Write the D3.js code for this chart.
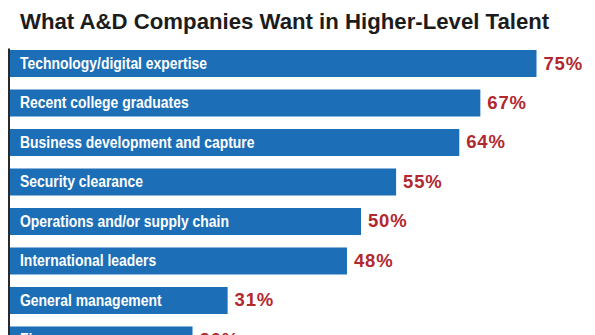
<!DOCTYPE html>
<html>
<head>
<meta charset="utf-8">
<script src="https://cdn.jsdelivr.net/npm/d3@7"></script>
<style>
  html, body { margin: 0; padding: 0; background: #fff; overflow: hidden; }
  svg { display: block; }
</style>
</head>
<body>
<script>
const title = "What A&D Companies Want in Higher-Level Talent";
const categories = [
  "Technology/digital expertise",
  "Recent college graduates",
  "Business development and capture",
  "Security clearance",
  "Operations and/or supply chain",
  "International leaders",
  "General management",
  "Finance"
];
const values = [75, 67, 64, 55, 50, 48, 31, 26];

const W = 595, H = 335;
const svg = d3.select("body").append("svg").attr("width", W).attr("height", H);

const x = d3.scaleLinear().domain([0, 100]).range([10, 712]);
const y = d3.scaleBand().domain(categories).range([50, 353.5]).paddingInner(0.316).paddingOuter(0);

svg.append("text")
  .attr("x", 20).attr("y", 28.5)
  .attr("font-family", "Liberation Sans, Arial, sans-serif")
  .attr("font-weight", "bold").attr("font-size", 22.2)
  .attr("fill", "#1c1c1c")
  .text(title);

const data = categories.map((c, i) => ({ c, v: values[i] }));

svg.selectAll("rect.bar").data(data).join("rect")
  .attr("class", "bar")
  .attr("x", x(0)).attr("y", d => y(d.c))
  .attr("width", d => x(d.v) - x(0)).attr("height", y.bandwidth())
  .attr("fill", "#1c6fb6");

// condensed label text: Liberation Sans bold squeezed horizontally
svg.selectAll("text.lab").data(data).join("text")
  .attr("class", "lab")
  .attr("transform", d => `translate(20,${y(d.c) + 19}) scale(0.82,1)`)
  .attr("font-family", "Liberation Sans, Arial, sans-serif")
  .attr("font-weight", "bold").attr("font-size", 17)
  .attr("fill", "#fff")
  .text(d => d.c);

svg.selectAll("text.val").data(data).join("text")
  .attr("class", "val")
  .attr("x", d => x(d.v) + 7).attr("y", d => y(d.c) + 19.5)
  .attr("font-family", "Liberation Sans, Arial, sans-serif")
  .attr("font-weight", "bold").attr("font-size", 18.5)
  .attr("letter-spacing", 0.8)
  .attr("fill", "#b2282f")
  .text(d => d.v + "%");

// axis line
const axis = svg.append("g").attr("transform", `translate(9,0)`)
  .call(d3.axisLeft(y).tickSize(0).tickFormat(""));
axis.select(".domain").attr("d", "M0,48.5V" + H).attr("stroke", "#2a2a2a").attr("stroke-width", 2);
</script>
</body>
</html>
